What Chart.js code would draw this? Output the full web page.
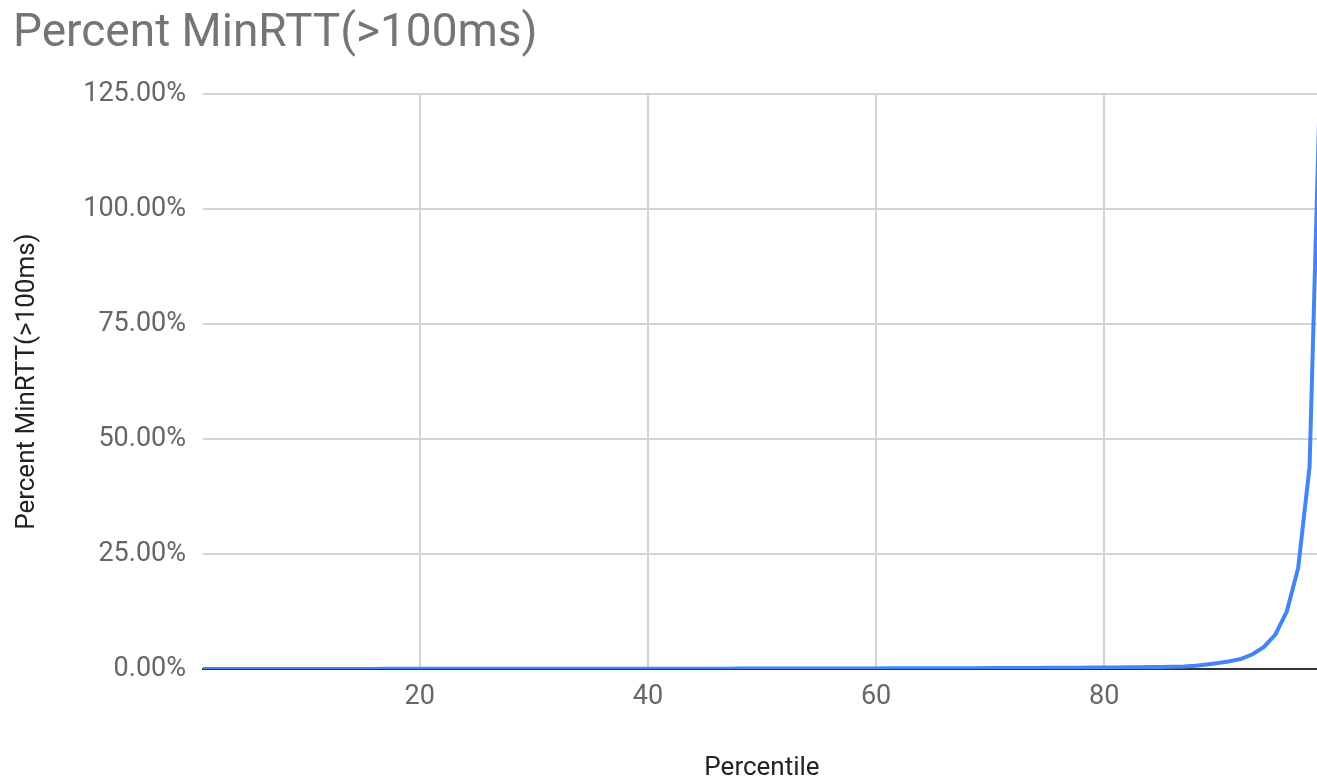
<!DOCTYPE html>
<html>
<head>
<meta charset="utf-8">
<script src="https://cdn.jsdelivr.net/npm/chart.js@4/dist/chart.umd.min.js"></script>
<style>
html, body { margin: 0; padding: 0; background: #fff; overflow: hidden; }
#wrap { position: relative; width: 1330px; height: 779px; }
</style>
</head>
<body>
<div id="wrap"><canvas id="c"></canvas></div>
<script>
const chartTitle = 'Percent MinRTT(>100ms)';
const xAxisTitle = 'Percentile';
const yAxisTitle = 'Percent MinRTT(>100ms)';
const percentiles = [
  1,2,3,4,5,6,7,8,9,10,11,12,13,14,15,16,17,18,19,20,
  21,22,23,24,25,26,27,28,29,30,31,32,33,34,35,36,37,38,39,40,
  41,42,43,44,45,46,47,48,49,50,51,52,53,54,55,56,57,58,59,60,
  61,62,63,64,65,66,67,68,69,70,71,72,73,74,75,76,77,78,79,80,
  81,82,83,84,85,86,87,88,89,90,91,92,93,94,95,96,97,98,99
];
const percentMinRTT = [
  0.00,0.00,0.00,0.01,0.01,0.01,0.01,0.01,0.01,0.02,0.02,0.02,0.02,0.02,0.02,0.02,0.03,0.03,0.03,0.03,
  0.03,0.03,0.03,0.04,0.04,0.04,0.04,0.04,0.04,0.05,0.05,0.05,0.05,0.05,0.06,0.06,0.06,0.06,0.06,0.07,
  0.07,0.07,0.07,0.08,0.08,0.08,0.08,0.09,0.09,0.09,0.10,0.10,0.10,0.11,0.11,0.11,0.12,0.12,0.13,0.13,
  0.14,0.14,0.15,0.15,0.16,0.17,0.17,0.18,0.19,0.20,0.21,0.22,0.23,0.24,0.25,0.26,0.27,0.29,0.30,0.32,
  0.34,0.36,0.38,0.41,0.44,0.48,0.55,0.70,1.00,1.30,1.70,2.20,3.20,4.80,7.50,12.50,22.00,44.00,135.00
];
const xTicks = [20, 40, 60, 80];
const yTicks = [0, 25, 50, 75, 100, 125];

const points = percentiles.map((p, i) => ({ x: p, y: percentMinRTT[i] }));

new Chart(document.getElementById('c'), {
  type: 'line',
  data: {
    datasets: [{
      label: yAxisTitle,
      data: points,
      borderColor: '#4285F4',
      backgroundColor: '#4285F4',
      borderWidth: 4,
      pointRadius: 0,
      tension: 0,
      fill: false
    }]
  },
  options: {
    responsive: true,
    maintainAspectRatio: false,
    animation: false,
    layout: { padding: { left: 13, right: 9, top: 0, bottom: 0 } },
    plugins: {
      legend: { display: false },
      tooltip: { enabled: false },
      title: {
        display: true,
        text: chartTitle,
        align: 'start',
        color: '#757575',
        font: { family: 'Roboto', size: 46, weight: 'normal', lineHeight: 1.2 },
        padding: { top: 7, bottom: 32 }
      }
    },
    scales: {
      x: {
        type: 'linear',
        min: percentiles[0],
        max: percentiles[percentiles.length - 1],
        afterBuildTicks: (s) => { s.ticks = xTicks.map(v => ({ value: v })); },
        afterFit: (s) => { s.height = 110; },
        ticks: {
          includeBounds: false,
          color: '#666666',
          padding: 12,
          font: { family: 'Roboto', size: 27 }
        },
        grid: { color: '#d4d4d4', lineWidth: 2, drawTicks: false },
        border: { display: true, color: '#333333', width: 2 },
        title: {
          display: true,
          text: xAxisTitle,
          color: '#222222',
          font: { family: 'Roboto', size: 26, lineHeight: 0.8 },
          padding: { top: 0, bottom: 0 }
        }
      },
      y: {
        type: 'linear',
        min: yTicks[0],
        max: yTicks[yTicks.length - 1],
        afterBuildTicks: (s) => { s.ticks = yTicks.map(v => ({ value: v })); },
        afterFit: (s) => { s.width = 190; },
        ticks: {
          color: '#666666',
          padding: 17,
          font: { family: 'Roboto', size: 27 },
          callback: (v) => Number(v).toFixed(2) + '%'
        },
        grid: {
          color: (ctx) => (ctx.tick && ctx.tick.value === 0) ? 'rgba(0,0,0,0)' : '#d4d4d4',
          lineWidth: 2,
          drawTicks: false
        },
        border: { display: false },
        title: {
          display: true,
          text: yAxisTitle,
          color: '#222222',
          font: { family: 'Roboto', size: 26, lineHeight: 1.0 },
          padding: { top: 1, bottom: 0 }
        }
      }
    }
  }
});
</script>
</body>
</html>
